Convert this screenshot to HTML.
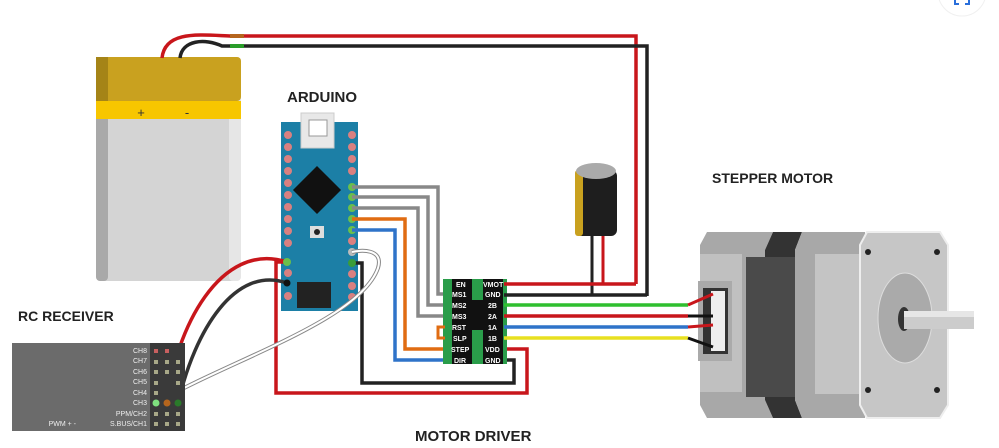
<!DOCTYPE html>
<html><head><meta charset="utf-8"><style>
html,body{margin:0;padding:0;background:#fff;}
svg{display:block;font-family:"Liberation Sans",sans-serif;}
</style></head><body>
<svg width="999" height="448" viewBox="0 0 999 448" xmlns="http://www.w3.org/2000/svg">
<!-- top-right icon -->
<circle cx="962" cy="-8" r="24" fill="#fff" stroke="#f0f0f0"/>
<path d="M955 0v4h4 M969 0v4h-4" stroke="#2a6fdb" stroke-width="2" fill="none"/>

<!-- battery -->
<rect x="96" y="57" width="145" height="224" rx="5" fill="#d4d4d4"/>
<rect x="96" y="57" width="12" height="224" rx="4" fill="#a9a9a9"/>
<rect x="229" y="57" width="12" height="224" rx="4" fill="#e6e6e6"/>
<rect x="96" y="57" width="145" height="44" rx="4" fill="#c9a11f"/>
<rect x="96" y="57" width="12" height="44" fill="#a58417"/>
<rect x="96" y="101" width="145" height="18" fill="#f7c600"/>
<text x="141" y="117" font-size="13" text-anchor="middle" fill="#333">+</text>
<text x="187" y="117" font-size="13" text-anchor="middle" fill="#333">-</text>

<!-- battery wires -->
<path d="M162 58 C165 30,200 35,232 36 L636 36 L636 284" stroke="#c8161b" stroke-width="3.5" fill="none"/>
<path d="M180 58 C182 40,205 38,222 46 L647 46 L647 296" stroke="#222" stroke-width="3.5" fill="none"/>
<rect x="230" y="34" width="14" height="4" fill="#b5651d"/>
<rect x="230" y="44" width="14" height="4" fill="#2a9d2a"/>

<text x="287" y="102" font-size="15" font-weight="bold" fill="#222">ARDUINO</text>
<text x="712" y="183" font-size="14" font-weight="bold" fill="#222">STEPPER MOTOR</text>
<text x="18" y="321" font-size="14" font-weight="bold" fill="#222">RC RECEIVER</text>
<text x="415" y="441" font-size="15" font-weight="bold" fill="#222">MOTOR DRIVER</text>

<!-- arduino -->
<rect x="281" y="122" width="77" height="189" fill="#1c7fa6"/>
<rect x="301" y="113" width="33" height="35" fill="#e8e8e8" stroke="#ccc"/>
<rect x="309" y="120" width="18" height="16" fill="#fff" stroke="#999"/>
<rect x="300" y="173" width="34" height="34" transform="rotate(45 317 190)" fill="#111"/>
<rect x="310" y="226" width="14" height="12" fill="#ddd"/><circle cx="317" cy="232" r="3" fill="#222"/>
<rect x="297" y="282" width="34" height="26" fill="#222"/>
<g fill="#d98080">
<circle cx="288" cy="135" r="4"/><circle cx="288" cy="147" r="4"/><circle cx="288" cy="159" r="4"/><circle cx="288" cy="171" r="4"/><circle cx="288" cy="183" r="4"/><circle cx="288" cy="195" r="4"/><circle cx="288" cy="207" r="4"/><circle cx="288" cy="219" r="4"/><circle cx="288" cy="231" r="4"/><circle cx="288" cy="243" r="4"/><circle cx="288" cy="273" r="4"/><circle cx="288" cy="296" r="4"/>
<circle cx="352" cy="135" r="4"/><circle cx="352" cy="147" r="4"/><circle cx="352" cy="159" r="4"/><circle cx="352" cy="171" r="4"/><circle cx="352" cy="241" r="4"/><circle cx="352" cy="274" r="4"/><circle cx="352" cy="286" r="4"/><circle cx="352" cy="297" r="4"/>
</g>
<g fill="#6abf4b"><circle cx="352" cy="187" r="4"/><circle cx="352" cy="197" r="4"/><circle cx="352" cy="208" r="4"/><circle cx="352" cy="219" r="4"/><circle cx="352" cy="230" r="4"/></g>
<circle cx="352" cy="252" r="4" fill="#bbb"/>

<!-- signal wires -->
<path d="M352 187 H438 V294 H445" stroke="#888" stroke-width="3.5" fill="none"/>
<path d="M352 197 H428 V305 H445" stroke="#888" stroke-width="3.5" fill="none"/>
<path d="M352 208 H418 V316 H445" stroke="#888" stroke-width="3.5" fill="none"/>
<path d="M352 219 H405 V349 H445" stroke="#e06c12" stroke-width="3.5" fill="none"/>
<path d="M352 230 H395 V360 H445" stroke="#2f73c9" stroke-width="3.5" fill="none"/>

<!-- power loops -->
<path d="M504 349 H527 V393 H276 V262 H287" stroke="#c8161b" stroke-width="3.5" fill="none"/>
<path d="M504 360 H514 V383 H362 V263 H352" stroke="#222" stroke-width="3.5" fill="none"/>

<!-- receiver wires -->
<path d="M167 403 C175 330,220 240,287 262" stroke="#c8161b" stroke-width="3.5" fill="none"/>
<path d="M178 403 C195 330,235 265,287 283" stroke="#333" stroke-width="3.5" fill="none"/>
<path d="M156 403 C230 360,360 320,378 268 C384 248,360 250,352 252" stroke="#888" stroke-width="4" fill="none"/>
<path d="M156 403 C230 360,360 320,378 268 C384 248,360 250,352 252" stroke="#fff" stroke-width="2" fill="none"/>
<circle cx="287" cy="262" r="4" fill="#6abf4b"/><circle cx="287" cy="283" r="3.5" fill="#111"/>
<circle cx="352" cy="263" r="4" fill="#3a9d3a"/>

<!-- capacitor -->
<rect x="575" y="170" width="42" height="66" rx="6" fill="#1e1e1e"/>
<rect x="575" y="170" width="8" height="66" rx="3" fill="#c9a11f"/>
<ellipse cx="596" cy="171" rx="20" ry="8" fill="#aaa"/>
<path d="M592 236 V295" stroke="#222" stroke-width="3" fill="none"/>
<path d="M603 236 V284" stroke="#c8161b" stroke-width="3" fill="none"/>

<!-- driver -->
<rect x="443" y="279" width="64" height="85" fill="#2a9d4a"/>
<rect x="452" y="279" width="20" height="85" fill="#111"/>
<rect x="483" y="279" width="20" height="85" fill="#111"/>
<rect x="472" y="300" width="11" height="30" fill="#111"/>
<g font-size="7" font-weight="bold" fill="#fff">
<text x="456" y="287">EN</text><text x="452" y="297">MS1</text><text x="452" y="308">MS2</text><text x="452" y="319">MS3</text><text x="452" y="330">RST</text><text x="453" y="341">SLP</text><text x="451" y="352">STEP</text><text x="454" y="363">DIR</text>
<text x="483" y="287">VMOT</text><text x="485" y="297">GND</text><text x="488" y="308">2B</text><text x="488" y="319">2A</text><text x="488" y="330">1A</text><text x="488" y="341">1B</text><text x="485" y="352">VDD</text><text x="485" y="363">GND</text>
</g>
<path d="M445 327 H438 V338 H445" stroke="#e06c12" stroke-width="3" fill="none"/>

<!-- motor wires -->
<path d="M504 284 H636" stroke="#c8161b" stroke-width="3.5"/>
<path d="M504 295 H647" stroke="#222" stroke-width="3.5"/>
<path d="M504 305 H688" stroke="#2fbf2f" stroke-width="3.5"/>
<path d="M504 316 H688" stroke="#c8161b" stroke-width="3.5"/>
<path d="M504 327 H688" stroke="#2f73c9" stroke-width="3.5"/>
<path d="M504 338 H688" stroke="#e8e020" stroke-width="3.5"/>

<!-- motor -->
<path d="M707 232 H773 L765 250 L765 400 L773 418 H707 L700 405 V245 Z" fill="#a8a8a8"/>
<rect x="700" y="254" width="42" height="138" fill="#c0c0c0"/>
<path d="M773 232 H802 L795 250 V400 L802 418 H773 L765 400 V250Z" fill="#333"/>
<rect x="746" y="257" width="90" height="140" fill="#4a4a4a"/>
<path d="M802 232 H865 V418 H802 L795 400 V250Z" fill="#a8a8a8"/>
<rect x="815" y="254" width="45" height="140" fill="#c4c4c4"/>
<path d="M867 232 H940 L948 245 V405 L940 418 H867 L860 405 V245Z" fill="#c6c6c6" stroke="#eee" stroke-width="2"/>
<circle cx="868" cy="252" r="3" fill="#222"/><circle cx="937" cy="252" r="3" fill="#222"/>
<circle cx="868" cy="390" r="3" fill="#222"/><circle cx="937" cy="390" r="3" fill="#222"/>
<ellipse cx="905" cy="318" rx="27" ry="45" fill="#aaa" stroke="#ddd"/>
<ellipse cx="904" cy="319" rx="6" ry="12" fill="#333"/>
<rect x="904" y="311" width="70" height="18" fill="#ccc"/>
<rect x="904" y="311" width="70" height="6" fill="#e6e6e6"/>
<rect x="698" y="281" width="34" height="80" fill="#aaa"/>
<rect x="703" y="288" width="25" height="66" fill="#333"/>
<rect x="711" y="291" width="14" height="60" fill="#eee"/>
<path d="M688 305 L713 294" stroke="#c8161b" stroke-width="3"/>
<path d="M688 316 L713 316" stroke="#111" stroke-width="3"/>
<path d="M688 327 L713 325" stroke="#c8161b" stroke-width="3"/>
<path d="M688 338 L713 347" stroke="#111" stroke-width="3"/>

<!-- receiver -->
<rect x="12" y="343" width="173" height="88" fill="#6b6b6b"/>
<rect x="150" y="343" width="35" height="88" fill="#3a3a3a"/>
<g font-size="7" fill="#eee" text-anchor="end">
<text x="147" y="353">CH8</text><text x="147" y="363">CH7</text><text x="147" y="374">CH6</text><text x="147" y="384">CH5</text><text x="147" y="395">CH4</text><text x="147" y="405">CH3</text><text x="147" y="416">PPM/CH2</text><text x="147" y="426">S.BUS/CH1</text>
<text x="76" y="426">PWM + -</text>
</g>
<g fill="#a8a888">
<rect x="154" y="360" width="4" height="4"/><rect x="165" y="360" width="4" height="4"/><rect x="176" y="360" width="4" height="4"/>
<rect x="154" y="370" width="4" height="4"/><rect x="165" y="370" width="4" height="4"/><rect x="176" y="370" width="4" height="4"/>
<rect x="154" y="381" width="4" height="4"/><rect x="176" y="381" width="4" height="4"/>
<rect x="154" y="391" width="4" height="4"/>
<rect x="154" y="412" width="4" height="4"/><rect x="165" y="412" width="4" height="4"/><rect x="176" y="412" width="4" height="4"/>
<rect x="154" y="422" width="4" height="4"/><rect x="165" y="422" width="4" height="4"/><rect x="176" y="422" width="4" height="4"/>
</g>
<rect x="154" y="349" width="4" height="4" fill="#c86060"/><rect x="165" y="349" width="4" height="4" fill="#c86060"/>
<circle cx="156" cy="403" r="3.5" fill="#7fe07f"/><circle cx="167" cy="403" r="3.5" fill="#b5651d"/><circle cx="178" cy="403" r="3.5" fill="#2a7a2a"/>
</svg>
</body></html>
